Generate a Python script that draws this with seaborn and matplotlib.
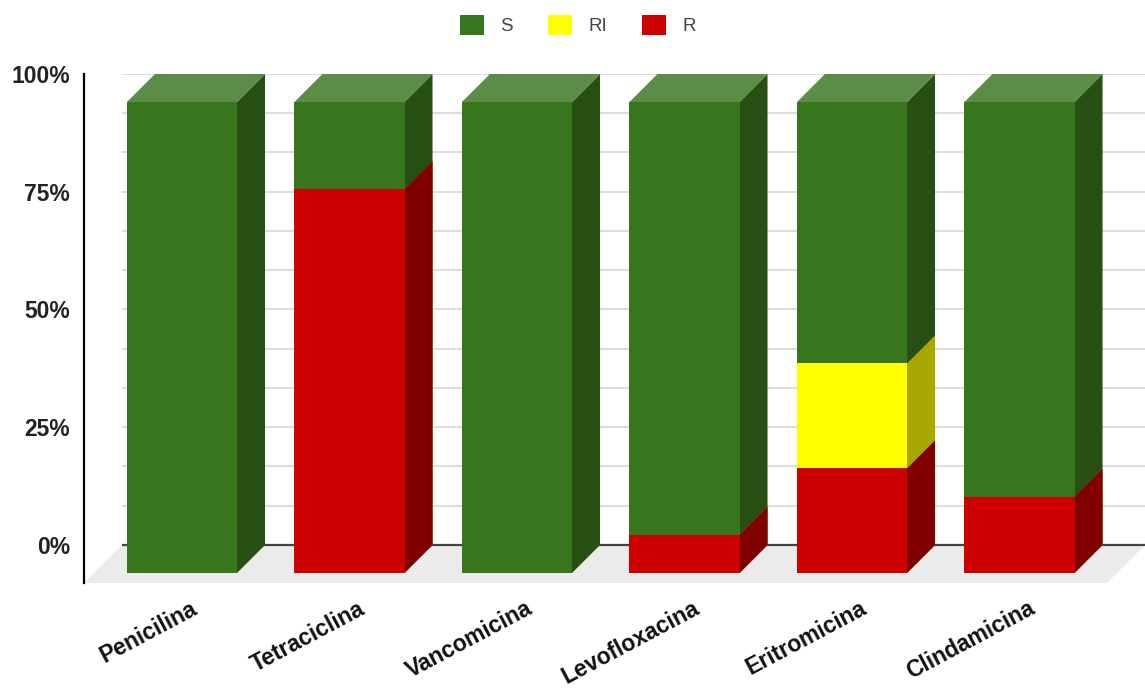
import numpy as np
import pandas as pd
import seaborn as sns
import matplotlib
matplotlib.use("Agg")
import matplotlib.pyplot as plt
from matplotlib.patches import Polygon, Patch
from matplotlib.transforms import ScaledTranslation

# Antibiotic susceptibility profile (% of isolates)
antibioticos = ["Penicilina", "Tetraciclina", "Vancomicina",
                "Levofloxacina", "Eritromicina", "Clindamicina"]
resistente = [0.0, 81.5, 0.0, 8.1, 22.2, 16.2]             # R
intermedio = [0.0, 0.0, 0.0, 0.0, 22.3, 0.0]               # RI
sensible = [100.0, 18.5, 100.0, 91.9, 55.5, 83.8]          # S
y_ticks = [0, 25, 50, 75, 100]
y_labels = ["0%", "25%", "50%", "75%", "100%"]

df = pd.DataFrame({
    "antibiotico": antibioticos,
    "R": resistente,
    "RI": intermedio,
    "S": sensible,
})
df["R_RI"] = df["R"] + df["RI"]
df["total"] = df["R_RI"] + df["S"]

# front colour, side colour
colores = {
    "S": ("#38761d", "#274e13"),
    "RI": ("#ffff00", "#a8a800"),
    "R": ("#cc0000", "#800000"),
}
top_green = "#5b8c48"

sns.set_theme(style="white")
plt.rcParams["font.family"] = ["Liberation Sans", "DejaVu Sans"]

W, H, DPI = 1145, 693, 100
fig = plt.figure(figsize=(W / DPI, H / DPI), dpi=DPI)
ax = fig.add_axes([84 / W, 110 / H, 1061 / W, 509 / H])

DEPTH_PX = 28
BAR_W = 0.657
front_shift = ScaledTranslation(-DEPTH_PX / DPI, -DEPTH_PX / DPI, fig.dpi_scale_trans)

layers = [("total", "S"), ("R_RI", "RI"), ("R", "R")]
containers = []
for col, key in layers:
    sns.barplot(data=df, x="antibiotico", y=col, color=colores[key][0],
                saturation=1, width=BAR_W, errorbar=None, ax=ax,
                linewidth=0)
    containers.append(ax.containers[-1])

ax.set_xlim(-0.7522, 5.582)
ax.set_ylim(-8.07, 100)

# depth of the 3D extrusion in data units
inv = ax.transData.inverted()
o = ax.transData.transform((0, 0))
dx, dy = inv.transform((o[0] + DEPTH_PX, o[1] + DEPTH_PX))

# floor
x_left, x_right = ax.get_xlim()
y_floor = ax.get_ylim()[0]
floor_dx = -y_floor * dx / dy
grid_x0 = x_left + floor_dx
ax.add_patch(Polygon([(grid_x0, 0), (x_right, 0), (x_right - floor_dx, y_floor),
                      (grid_x0 - floor_dx, y_floor)],
                     closed=True, facecolor="#ebebeb", edgecolor="none", zorder=0.5))

# back-plane gridlines
for g in np.arange(1, 13) * 100 / 12:
    ax.plot([grid_x0, x_right], [g, g], color="#dadada", lw=1.3, zorder=0.8,
            solid_capstyle="butt")
ax.plot([grid_x0, x_right], [0, 0], color="#444444", lw=1.6, zorder=0.9,
        solid_capstyle="butt")

# extrude each bar: side face, top face, shifted front face
for li, ((col, key), cont) in enumerate(zip(layers, containers)):
    z = 2 + li
    for p in cont.patches:
        x0, w, h = p.get_x(), p.get_width(), p.get_height()
        xr = x0 + w
        if h > 0:
            ax.add_patch(Polygon([(xr - dx, -dy), (xr, 0), (xr, h), (xr - dx, h - dy)],
                                 closed=True, facecolor=colores[key][1],
                                 edgecolor="none", zorder=z))
            if col == "total":
                ax.add_patch(Polygon([(x0 - dx, h - dy), (x0, h), (xr, h), (xr - dx, h - dy)],
                                     closed=True, facecolor=top_green,
                                     edgecolor="none", zorder=z))
        p.set_transform(ax.transData + front_shift)
        p.set_zorder(z + 0.5)
        p.set_clip_on(False)

# axes styling
for s in ["top", "right", "bottom"]:
    ax.spines[s].set_visible(False)
ax.spines["left"].set_color("black")
ax.spines["left"].set_linewidth(1.6)
ax.grid(False)
ax.set_xlabel("")
ax.set_ylabel("")

ax.set_yticks(y_ticks)
ax.set_yticklabels(y_labels, fontsize=16.5, fontweight="bold", color="#222222")
ax.tick_params(axis="y", length=0, pad=10)

ax.set_xticks(range(len(antibioticos)))
ax.set_xticklabels(antibioticos, fontsize=16.5, fontweight="bold", color="#111111",
                   rotation=28, ha="right", va="top", rotation_mode="anchor")
ax.tick_params(axis="x", length=0, pad=10)
label_shift = ScaledTranslation(-20 / DPI, 0, fig.dpi_scale_trans)
for t in ax.get_xticklabels():
    t.set_transform(t.get_transform() + label_shift)

handles = [Patch(facecolor=colores[k][0], edgecolor="none", label=k) for k in ["S", "RI", "R"]]
fig.legend(handles=handles, loc="center", bbox_to_anchor=(578 / W, 1 - 25 / H),
           ncol=3, frameon=False, fontsize=13.5, handlelength=1.28, handleheight=1.28,
           handletextpad=0.9, columnspacing=1.85, labelcolor="#444444")

fig.savefig("out.png", dpi=DPI)
